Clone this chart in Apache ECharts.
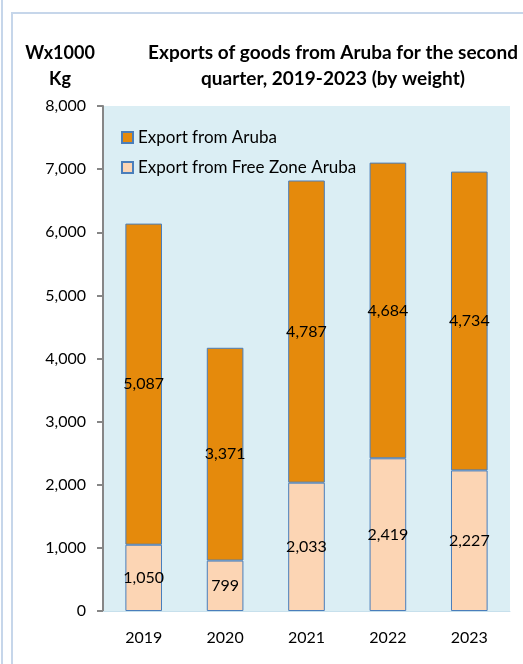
<!DOCTYPE html>
<html>
<head>
<meta charset="utf-8">
<style>
  html, body { margin: 0; padding: 0; background: #fff; }
  #wrap { position: relative; width: 523px; height: 664px; overflow: hidden; }
  .edge { position: absolute; left: 1px; top: 0; width: 2px; height: 664px; background: #c6d6ea; }
  .frame { position: absolute; left: 11px; top: 12px; width: 600px; height: 700px; border-left: 2px solid #c6d6ea; border-top: 2px solid #c6d6ea; }
  #chart { position: absolute; left: 0; top: 0; width: 523px; height: 664px; }
</style>
</head>
<body>
<div id="wrap">
  <div class="edge"></div>
  <div class="frame"></div>
  <div id="chart"></div>
</div>
<script src="https://cdn.jsdelivr.net/npm/echarts@6/dist/echarts.min.js"></script>
<script>
// 数据
const years = ['2019', '2020', '2021', '2022', '2023'];
const freeZone = [1050, 799, 2033, 2419, 2227];
const aruba = [5087, 3371, 4787, 4684, 4734];
const yTicks = [0, 1000, 2000, 3000, 4000, 5000, 6000, 7000, 8000];

const font = 'Lato, "Open Sans", sans-serif';
const chart = echarts.init(document.getElementById('chart'));

const fmt = (v) => v.toLocaleString('en-US');

const option = {
  animation: false,
  textStyle: { fontFamily: font, color: '#000' },
  title: [
    {
      text: 'Exports of goods from Aruba for the second\nquarter, 2019-2023 (by weight)',
      left: 328,
      top: 35,
      textAlign: 'center',
      textStyle: { fontSize: 19, fontWeight: 'bold', lineHeight: 26, fontFamily: font, color: '#000' },
    },
    {
      text: 'Wx1000\nKg',
      left: 55,
      top: 35,
      textAlign: 'center',
      textStyle: { fontSize: 18, fontWeight: 'bold', lineHeight: 26, fontFamily: font, color: '#000' },
    },
  ],
  legend: {
    data: ['Export from Aruba', 'Export from Free Zone Aruba'],
    orient: 'vertical',
    left: 116,
    top: 124,
    itemWidth: 11,
    itemHeight: 11,
    itemGap: 13,
    icon: 'rect',
    textStyle: { fontSize: 17, fontFamily: font, color: '#000' },
  },
  grid: {
    left: 103,
    right: 13,
    top: 106,
    bottom: 53,
    show: true,
    backgroundColor: '#dbeef4',
    borderWidth: 0,
  },
  xAxis: {
    type: 'category',
    data: years,
    axisLine: { show: true, lineStyle: { color: '#c7e0ec', width: 1 } },
    axisTick: { show: false },
    axisLabel: { fontSize: 16, margin: 19, color: '#000', fontFamily: font },
  },
  yAxis: {
    type: 'value',
    min: yTicks[0],
    max: yTicks[yTicks.length - 1],
    interval: 1000,
    axisLine: { show: true, lineStyle: { color: '#868686', width: 2 } },
    axisTick: { show: true, length: 6, lineStyle: { color: '#868686', width: 2 } },
    splitLine: { show: false },
    axisLabel: { fontSize: 16, margin: 17, color: '#000', fontFamily: font, formatter: (v) => fmt(v) },
  },
  series: [
    {
      name: 'Export from Free Zone Aruba',
      type: 'bar',
      stack: 'total',
      barWidth: '45%',
      data: freeZone,
      itemStyle: { color: '#fcd5b4', borderColor: '#4a7ebb', borderWidth: 1 },
      label: { show: true, position: 'inside', fontSize: 16, color: '#000', fontFamily: font, formatter: (p) => fmt(p.value) },
    },
    {
      name: 'Export from Aruba',
      type: 'bar',
      stack: 'total',
      barWidth: '45%',
      data: aruba,
      itemStyle: { color: '#e58a0c', borderColor: '#4a7ebb', borderWidth: 1 },
      label: { show: true, position: 'inside', fontSize: 16, color: '#000', fontFamily: font, formatter: (p) => fmt(p.value) },
    },
  ],
};

option && chart.setOption(option);
</script>
</body>
</html>
